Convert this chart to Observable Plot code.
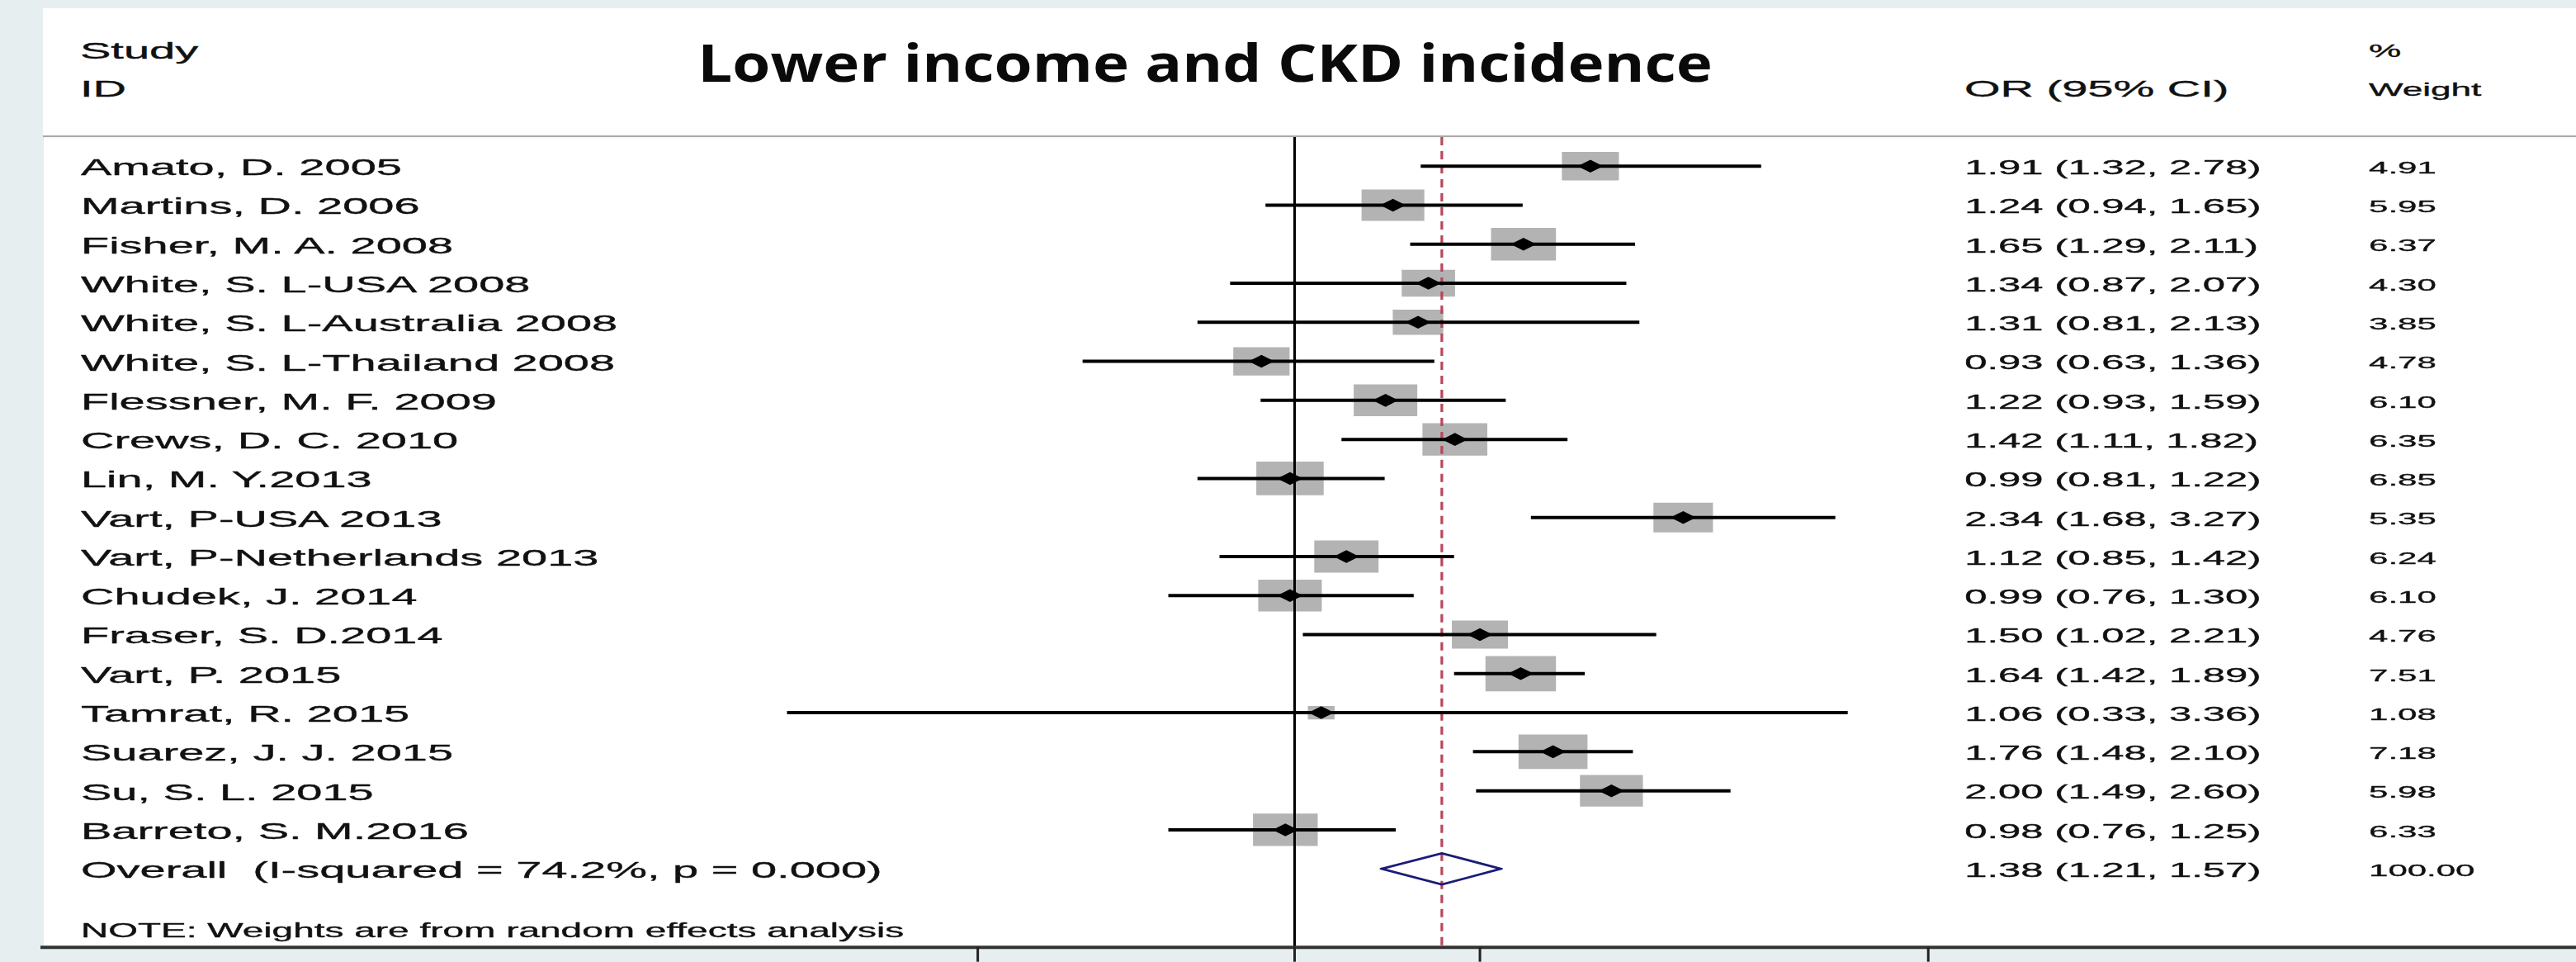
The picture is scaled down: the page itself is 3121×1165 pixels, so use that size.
<!DOCTYPE html>
<html>
<head>
<meta charset="utf-8">
<script src="https://cdn.jsdelivr.net/npm/d3@7"></script>
<script src="https://cdn.jsdelivr.net/npm/@observablehq/plot@0.6"></script>
<style>
  html, body { margin: 0; padding: 0; background: #e6eef0; overflow: hidden; }
  #page { position: relative; width: 3121px; height: 1165px; }
  #stage { position: absolute; left: 0; top: 0; width: 1560.5px; height: 1165px; transform: scaleX(2); transform-origin: 0 0; }
  #header { position: absolute; left: 26px; top: 10px; width: 1534.5px; height: 154px; background: #fff;
            border-bottom: 2px solid #a9a9a9; font-family: "Liberation Sans", Arial, sans-serif; color: #111;
            -webkit-text-stroke: 0.35px #111; }
  .h { position: absolute; white-space: nowrap; line-height: 1; }
  #chart { position: absolute; left: 0; top: 166px; }
  #title { position: absolute; left: 1460px; top: 44px; font-family: "Open Sans", sans-serif; font-weight: 700;
           font-size: 62px; line-height: 1; color: #0a0a0a; white-space: nowrap; transform-origin: 50% 50%; }
</style>
</head>
<body>
<div id="page">
  <div id="stage">
    <div id="header">
      <div class="h" style="left:22.5px; top:38px; font-size:28px;">Study</div>
      <div class="h" style="left:22.5px; top:84.3px; font-size:28px;">ID</div>
      <div class="h" style="left:1164px; top:84.3px; font-size:28px;">OR (95% CI)</div>
      <div class="h" style="left:1409px; top:41.4px; font-size:22px;">%</div>
      <div class="h" style="left:1409px; top:88.4px; font-size:22px;">Weight</div>
    </div>
    <div id="chart"></div>
  </div>
  <div id="title">Lower income and CKD incidence</div>
</div>
<script>
// ---- data ----
const studies = [
  "Amato, D. 2005", "Martins, D. 2006", "Fisher, M. A. 2008", "White, S. L-USA 2008",
  "White, S. L-Australia 2008", "White, S. L-Thailand 2008", "Flessner, M. F. 2009",
  "Crews, D. C. 2010", "Lin, M. Y.2013", "Vart, P-USA 2013", "Vart, P-Netherlands 2013",
  "Chudek, J. 2014", "Fraser, S. D.2014", "Vart, P. 2015", "Tamrat, R. 2015",
  "Suarez, J. J. 2015", "Su, S. L. 2015", "Barreto, S. M.2016"
];
const orValues = [1.91, 1.24, 1.65, 1.34, 1.31, 0.93, 1.22, 1.42, 0.99, 2.34, 1.12, 0.99, 1.50, 1.64, 1.06, 1.76, 2.00, 0.98];
const ciLow    = [1.32, 0.94, 1.29, 0.87, 0.81, 0.63, 0.93, 1.11, 0.81, 1.68, 0.85, 0.76, 1.02, 1.42, 0.33, 1.48, 1.49, 0.76];
const ciHigh   = [2.78, 1.65, 2.11, 2.07, 2.13, 1.36, 1.59, 1.82, 1.22, 3.27, 1.42, 1.30, 2.21, 1.89, 3.36, 2.10, 2.60, 1.25];
const weights  = [4.91, 5.95, 6.37, 4.30, 3.85, 4.78, 6.10, 6.35, 6.85, 5.35, 6.24, 6.10, 4.76, 7.51, 1.08, 7.18, 5.98, 6.33];
const overallLabel = "Overall\u00a0 (I-squared = 74.2%, p = 0.000)";
const overallValues = [1.38, 1.21, 1.57, 100.00]; // OR, low, high, weight
const axisTicks = [0.5, 1, 1.5, 4];
const noteText = "NOTE: Weights are from random effects analysis";

// ---- derived tables ----
const f2 = v => v.toFixed(2);
const rows = studies.map((name, i) => ({
  name, row: i, or: orValues[i], lo: ciLow[i], hi: ciHigh[i], weight: weights[i],
  ciText: `${f2(orValues[i])} (${f2(ciLow[i])}, ${f2(ciHigh[i])})`, wText: f2(weights[i])
}));
const [oOR, oLo, oHi, oW] = overallValues;
const overallRow = { name: overallLabel, row: studies.length, or: oOR, lo: oLo, hi: oHi, weight: oW,
  ciText: `${f2(oOR)} (${f2(oLo)}, ${f2(oHi)})`, wText: f2(oW) };
const allRows = [...rows, overallRow];
const halfH = 0.4; // diamond half-height, in rows
const diamond = [
  { x: oLo, y: overallRow.row }, { x: oOR, y: overallRow.row - halfH },
  { x: oHi, y: overallRow.row }, { x: oOR, y: overallRow.row + halfH },
  { x: oLo, y: overallRow.row }
];

const txt = { stroke: "#111", strokeWidth: 0.35, fill: "#111" };

const chart = Plot.plot({
  width: 1561, height: 999,
  marginLeft: 26, marginRight: 0, marginTop: 0, marginBottom: 18,
  style: { background: "transparent", fontFamily: '"Liberation Sans", Arial, sans-serif', color: "#111", overflow: "visible" },
  x: { type: "log", domain: [0.2, 5], range: [338.2, 1229.8], axis: null, label: null },
  y: { domain: [0, studies.length], range: [34.7, 886], axis: null, label: null },
  r: { type: "sqrt", domain: [0, 1], range: [0, 8.8] },
  marks: [
    Plot.frame({ fill: "white", stroke: null }),
    Plot.dot(rows, { x: "or", y: "row", r: "weight", symbol: "square", fill: "#b3b3b3", stroke: null }),
    Plot.ruleX([1], { stroke: "#000", strokeWidth: 1.5 }),
    Plot.ruleX([oOR], { stroke: "#b8475a", strokeWidth: 1.6, strokeDasharray: "10,7" }),
    Plot.ruleY(rows, { y: "row", x1: "lo", x2: "hi", stroke: "#000", strokeWidth: 4 }),
    Plot.dot(rows, { x: "or", y: "row", r: 7, symbol: "diamond2", fill: "#000", stroke: null }),
    Plot.line(diamond, { x: "x", y: "y", stroke: "#1b1b78", strokeWidth: 2.6, strokeLinejoin: "round" }),
    Plot.text(allRows, { y: "row", text: "name", frameAnchor: "left", textAnchor: "start", dx: 22.5, dy: 2, fontSize: 28, ...txt }),
    Plot.text(allRows, { y: "row", text: "ciText", frameAnchor: "left", textAnchor: "start", dx: 1164, dy: 2, fontSize: 24.5, ...txt }),
    Plot.text(allRows, { y: "row", text: "wText", frameAnchor: "left", textAnchor: "start", dx: 1409, dy: 2, fontSize: 21, ...txt }),
    Plot.text([noteText], { text: d => d, frameAnchor: "bottom-left", textAnchor: "start", lineAnchor: "bottom", dx: 22.5, dy: -12, fontSize: 23, ...txt }),
    Plot.frame({ anchor: "bottom", stroke: "#333", strokeWidth: 4 }),
    Plot.axisX({ ticks: axisTicks, anchor: "bottom", tickSize: 18, tickFormat: () => "", label: null, stroke: "#222", strokeWidth: 1.5 })
  ]
});
document.getElementById("chart").appendChild(chart);

// stretch the title to the reference width
const title = document.getElementById("title");
const s = 1230 / title.offsetWidth;
title.style.transform = `translateX(-50%) scaleX(${s})`;
</script>
</body>
</html>
